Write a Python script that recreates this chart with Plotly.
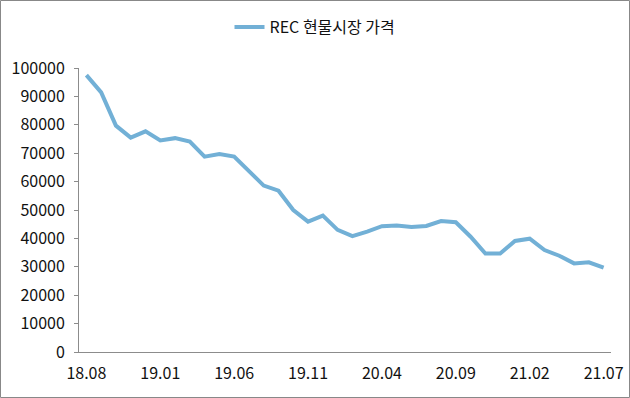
import plotly.graph_objects as go

months = ["18.08","18.09","18.10","18.11","18.12","19.01","19.02","19.03","19.04","19.05",
          "19.06","19.07","19.08","19.09","19.10","19.11","19.12","20.01","20.02","20.03",
          "20.04","20.05","20.06","20.07","20.08","20.09","20.10","20.11","20.12","21.01",
          "21.02","21.03","21.04","21.05","21.06","21.07"]
prices = [97500, 91400, 79700, 75500, 77700, 74500, 75300, 74100, 68800, 69700,
          68800, 63500, 58600, 56800, 50000, 45900, 48000, 43000, 40800, 42400,
          44300, 44500, 44000, 44400, 46100, 45700, 40600, 34700, 34700, 39100,
          39900, 35900, 33900, 31200, 31600, 29700]
tick_labels = ["18.08","19.01","19.06","19.11","20.04","20.09","21.02","21.07"]
y_ticks = [0,10000,20000,30000,40000,50000,60000,70000,80000,90000,100000]

W, H = 630, 398
ml, mr, mt, mb = 79, 19, 68, 46
pw, ph = W - ml - mr, H - mt - mb

fig = go.Figure()
fig.add_trace(go.Scatter(
    x=list(range(len(months))), y=prices, mode="lines",
    name="REC 현물시장 가격",
    line=dict(color="#72B0D6", width=4),
))

font = "Noto Sans CJK KR"
fig.update_layout(
    width=W, height=H,
    margin=dict(l=ml, r=mr, t=mt, b=mb, autoexpand=False),
    paper_bgcolor="white", plot_bgcolor="white",
    font=dict(family=font, size=16, color="#111"),
    showlegend=True,
    legend=dict(orientation="h", xref="container", yref="container",
                x=0.5, xanchor="center", y=1 - 27/H, yanchor="middle",
                font=dict(size=16, color="#111"), itemwidth=30),
    xaxis=dict(
        range=[-0.5, len(months) - 0.5],
        tickmode="array",
        tickvals=[months.index(t) for t in tick_labels],
        ticktext=tick_labels,
        showgrid=False, zeroline=False,
        showline=True, linecolor="#8c8c8c", linewidth=1,
        ticks="", ticklabelstandoff=7,
    ),
    yaxis=dict(
        range=[0, 100000],
        tickvals=y_ticks,
        ticktext=[str(v) for v in y_ticks],
        showgrid=False, zeroline=False,
        showline=True, linecolor="#8c8c8c", linewidth=1,
        ticks="outside", ticklen=4, tickcolor="#8c8c8c",
        ticklabelstandoff=6,
    ),
    shapes=[dict(type="rect", xref="paper", yref="paper",
                 x0=(-ml + 0.5) / pw, x1=(pw + mr - 0.5) / pw,
                 y0=(-mb + 0.5) / ph, y1=(ph + mt - 0.5) / ph,
                 line=dict(color="#888888", width=1), fillcolor="rgba(0,0,0,0)",
                 layer="below")],
)

fig.write_html("out.html", config={"displayModeBar": False},
               post_script="document.body.style.margin='0px';document.body.style.padding='0px';")
